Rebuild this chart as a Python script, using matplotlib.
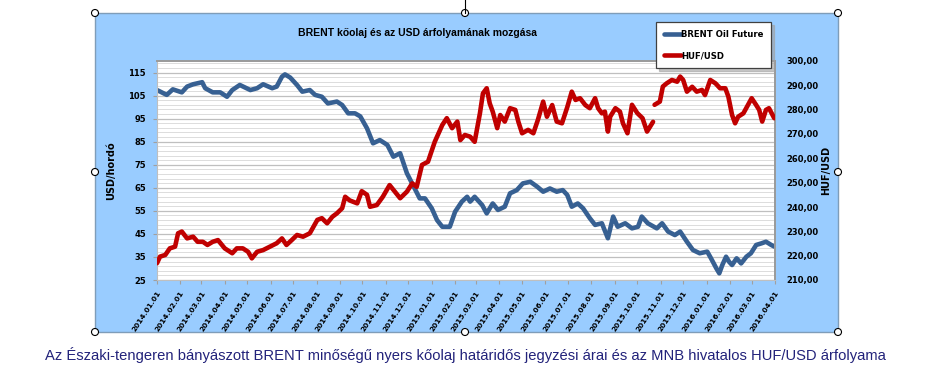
import numpy as np
import pandas as pd
import matplotlib
matplotlib.use('Agg')
import matplotlib.pyplot as plt
import matplotlib.dates as mdates
from matplotlib.patches import Rectangle, Circle
from matplotlib.ticker import FixedLocator, FuncFormatter

# BRENT Oil Future (USD/hordó)
brent_dates = ['2014-01-01', '2014-01-14', '2014-01-22', '2014-02-03', '2014-02-10', '2014-02-18',
               '2014-03-02', '2014-03-06', '2014-03-16', '2014-03-26', '2014-04-04', '2014-04-11',
               '2014-04-21', '2014-05-05', '2014-05-14', '2014-05-22', '2014-06-03', '2014-06-09',
               '2014-06-16', '2014-06-20', '2014-06-27', '2014-07-06', '2014-07-13', '2014-07-23',
               '2014-07-30', '2014-08-08', '2014-08-16', '2014-08-28', '2014-09-04', '2014-09-12',
               '2014-09-21', '2014-09-28', '2014-10-07', '2014-10-15', '2014-10-24', '2014-11-03',
               '2014-11-11', '2014-11-20', '2014-11-29', '2014-12-07', '2014-12-16', '2014-12-23',
               '2015-01-01', '2015-01-08', '2015-01-15', '2015-01-25', '2015-02-01', '2015-02-10',
               '2015-02-17', '2015-02-21', '2015-02-27', '2015-03-09', '2015-03-15', '2015-03-23',
               '2015-03-30', '2015-04-08', '2015-04-15', '2015-04-24', '2015-05-02', '2015-05-12',
               '2015-05-21', '2015-05-29', '2015-06-07', '2015-06-16', '2015-06-24', '2015-06-30',
               '2015-07-06', '2015-07-14', '2015-07-21', '2015-07-30', '2015-08-06', '2015-08-15',
               '2015-08-23', '2015-08-30', '2015-09-05', '2015-09-15', '2015-09-24', '2015-10-02',
               '2015-10-07', '2015-10-15', '2015-10-27', '2015-11-03', '2015-11-11', '2015-11-20',
               '2015-11-27', '2015-12-06', '2015-12-14', '2015-12-23', '2016-01-02', '2016-01-07',
               '2016-01-14', '2016-01-18', '2016-01-22', '2016-01-27', '2016-01-31', '2016-02-04',
               '2016-02-10', '2016-02-16', '2016-02-23', '2016-02-29', '2016-03-07', '2016-03-14',
               '2016-03-20', '2016-03-27', '2016-03-31']
brent = [107.4, 105.3, 107.7, 106.4, 108.9, 109.9,
         110.8, 108.2, 106.4, 106.4, 104.5, 107.4,
         109.6, 107.4, 108.2, 109.9, 108.2, 108.9,
         113.2, 114.2, 112.8, 109.6, 106.7, 107.4,
         105.3, 104.5, 101.6, 102.4, 100.9, 97.3,
         97.3, 96.0, 90.8, 84.3, 85.7, 83.6,
         78.5, 80.0, 71.3, 66.2, 60.4, 60.4,
         56.1, 51.0, 48.1, 48.1, 54.6, 59.0,
         61.1, 59.0, 61.1, 57.5, 53.9, 58.2,
         55.4, 56.8, 62.6, 64.0, 66.9, 67.6,
         65.5, 63.3, 64.7, 63.3, 64.0, 61.9,
         56.8, 58.2, 56.1, 51.8, 48.9, 49.6,
         43.1, 52.5, 48.1, 49.6, 47.4, 48.1,
         52.5, 49.6, 47.4, 49.6, 46.0, 44.5,
         46.0, 41.6, 38.0, 36.6, 37.3, 34.4,
         30.1, 27.9, 31.5, 35.1, 32.9, 31.5,
         34.4, 32.2, 35.1, 36.6, 40.2, 40.9,
         41.6, 40.2, 39.5]

# HUF/USD árfolyam
huf_dates = ['2014-01-01', '2014-01-05', '2014-01-12', '2014-01-18', '2014-01-25', '2014-01-29',
             '2014-02-03', '2014-02-10', '2014-02-18', '2014-02-24', '2014-03-03', '2014-03-09',
             '2014-03-16', '2014-03-23', '2014-04-01', '2014-04-11', '2014-04-17', '2014-04-25',
             '2014-05-02', '2014-05-07', '2014-05-14', '2014-05-22', '2014-05-31', '2014-06-09',
             '2014-06-16', '2014-06-22', '2014-06-29', '2014-07-06', '2014-07-14', '2014-07-23',
             '2014-08-02', '2014-08-08', '2014-08-15', '2014-08-22', '2014-08-28', '2014-09-04',
             '2014-09-08', '2014-09-14', '2014-09-24', '2014-09-30', '2014-10-07', '2014-10-11',
             '2014-10-20', '2014-10-28', '2014-11-06', '2014-11-13', '2014-11-20', '2014-11-29',
             '2014-12-06', '2014-12-12', '2014-12-19', '2014-12-27', '2015-01-05', '2015-01-15',
             '2015-01-21', '2015-01-28', '2015-02-04', '2015-02-08', '2015-02-14', '2015-02-21',
             '2015-02-27', '2015-03-06', '2015-03-10', '2015-03-15', '2015-03-19', '2015-03-23',
             '2015-03-29', '2015-04-02', '2015-04-08', '2015-04-15', '2015-04-22', '2015-04-26',
             '2015-05-01', '2015-05-09', '2015-05-16', '2015-05-22', '2015-05-29', '2015-06-03',
             '2015-06-10', '2015-06-16', '2015-06-23', '2015-06-30', '2015-07-06', '2015-07-11',
             '2015-07-17', '2015-07-24', '2015-07-30', '2015-08-06', '2015-08-10', '2015-08-15',
             '2015-08-19', '2015-08-23', '2015-08-26', '2015-09-02', '2015-09-08', '2015-09-12',
             '2015-09-18', '2015-09-24', '2015-10-01', '2015-10-08', '2015-10-14', '2015-10-18',
             '2015-10-22', '2015-10-23', '2015-10-24', '2015-10-31', '2015-11-04', '2015-11-09',
             '2015-11-16', '2015-11-23', '2015-11-27', '2015-12-01', '2015-12-06', '2015-12-13',
             '2015-12-19', '2015-12-26', '2015-12-30', '2016-01-06', '2016-01-13', '2016-01-19',
             '2016-01-26', '2016-01-30', '2016-02-04', '2016-02-08', '2016-02-12', '2016-02-19',
             '2016-02-25', '2016-03-01', '2016-03-07', '2016-03-11', '2016-03-15', '2016-03-20',
             '2016-03-24', '2016-03-31']
huf = [216.9, 219.6, 220.3, 223.0, 223.7, 229.2,
       229.9, 227.1, 227.8, 225.7, 225.7, 224.4,
       225.7, 226.4, 223.0, 221.0, 223.0, 223.0,
       221.6, 218.9, 221.6, 222.3, 223.7, 225.1,
       227.1, 224.4, 226.4, 228.5, 227.8, 229.2,
       234.7, 235.4, 233.3, 236.0, 237.4, 239.5,
       244.2, 242.7, 241.5, 246.5, 245.0, 240.1,
       240.8, 244.2, 249.0, 246.3, 243.6, 246.3,
       249.7, 248.3, 257.3, 258.6, 266.8, 273.7,
       276.5, 272.4, 275.1, 267.5, 269.6, 268.9,
       266.8, 278.5, 286.7, 288.8, 282.6, 279.2,
       272.4, 277.8, 275.1, 280.6, 279.9, 275.1,
       270.3, 271.7, 270.3, 275.8, 283.3, 277.1,
       281.9, 275.1, 274.4, 281.0, 287.4, 284.0,
       284.7, 281.9, 280.6, 284.7, 280.6, 278.5,
       279.2, 271.0, 277.1, 280.6, 279.2, 274.4,
       270.3, 282.0, 278.6, 276.5, 271.0, 273.0,
       275.0, np.nan, 282.0, 283.3, 289.5, 290.8,
       292.2, 291.5, 293.6, 292.2, 287.4, 289.4,
       287.4, 288.1, 286.0, 292.2, 290.8, 288.8,
       288.8, 285.4, 277.8, 274.4, 277.1, 278.5,
       281.9, 284.7, 281.9, 279.9, 275.1, 279.9,
       280.6, 276.5]

month_ticks = pd.date_range('2014-01-01', '2016-04-01', freq='MS')
left_ticks = list(range(25, 116, 10))
right_ticks = list(range(210, 301, 10))

W, H = 929, 389
fig = plt.figure(figsize=(W / 100, H / 100), dpi=100)
fig.patch.set_facecolor('white')

# chart frame (light blue area)
bg = fig.add_axes([0, 0, 1, 1], zorder=0)
bg.set_xlim(0, W)
bg.set_ylim(H, 0)
bg.axis('off')
bg.add_patch(Rectangle((95, 13), 743, 319, facecolor='#99CCFF', edgecolor='#7F9DB9', lw=1))

ax = fig.add_axes([157 / W, 1 - 280 / H, 618 / W, 219 / H], zorder=1)
ax.set_facecolor('white')
ax.plot(pd.to_datetime(brent_dates), brent, color='#376092', lw=3.3,
        solid_capstyle='round', solid_joinstyle='round', label='BRENT Oil Future')
ax.set_ylim(25, 120)
ax.set_yticks(left_ticks)
ax.yaxis.set_minor_locator(FixedLocator(np.arange(27, 120, 2)))
ax.grid(True, which='major', axis='y', color='#BFBFBF', lw=0.9)
ax.grid(True, which='minor', axis='y', color='#DCDCDC', lw=0.7)
ax.tick_params(axis='y', which='minor', length=0)
ax.set_axisbelow(True)
ax.set_xlim(pd.Timestamp('2014-01-01'), pd.Timestamp('2016-04-01'))
ax.set_xticks(month_ticks)
ax.xaxis.set_major_formatter(mdates.DateFormatter('%Y.%m.%d'))
ax.tick_params(axis='x', length=3, color='#A0A0A0', pad=4)
ax.tick_params(axis='y', length=3, color='#A0A0A0', pad=5)
for lab in ax.get_xticklabels():
    lab.set_rotation(57)
    lab.set_ha('right')
    lab.set_va('top')
    lab.set_rotation_mode('anchor')
    lab.set_fontsize(5.3)
    lab.set_fontweight('bold')
for lab in ax.get_yticklabels():
    lab.set_fontsize(6)
    lab.set_fontweight('bold')
ax.set_ylabel('USD/hordó', fontsize=7, fontweight='bold', labelpad=9)
for s in ['left', 'bottom']:
    ax.spines[s].set_color('#BFBFBF')
for s in ['top', 'right']:
    ax.spines[s].set_color('#9A9A9A')
    ax.spines[s].set_linewidth(1.4)

ax2 = ax.twinx()
ax2.plot(pd.to_datetime(huf_dates), huf, color='#C00000', lw=3.3,
         solid_capstyle='round', solid_joinstyle='round', label='HUF/USD')
ax2.set_ylim(210, 300)
ax2.set_yticks(right_ticks)
ax2.yaxis.set_major_formatter(FuncFormatter(lambda v, p: f'{v:.2f}'.replace('.', ',')))
ax2.tick_params(axis='y', length=0, pad=8)
for lab in ax2.get_yticklabels():
    lab.set_fontsize(6)
    lab.set_fontweight('bold')
ax2.set_ylabel('HUF/USD', fontsize=7, fontweight='bold', labelpad=2)
for s in ax2.spines.values():
    s.set_visible(False)

fig.text(418 / W, 1 - 33 / H, 'BRENT kőolaj és az USD árfolyamának mozgása',
         ha='center', va='center', fontsize=7.5, fontweight='bold', family='Liberation Sans')

leg = fig.legend(loc='upper left', bbox_to_anchor=(656 / W, 1 - 22 / H),
                 prop={'size': 6.1, 'weight': 'bold'}, frameon=True, fancybox=False,
                 shadow={'color': '#A0A0A0', 'alpha': 0.6, 'ox': 2, 'oy': -2},
                 borderpad=0.9, labelspacing=1.5, handlelength=2.1,
                 handletextpad=0.0, borderaxespad=0)
leg.get_frame().set_edgecolor('#404040')
leg.get_frame().set_linewidth(0.9)
leg.set_zorder(5)

fig.text(465 / W, 1 - 355 / H,
         'Az Északi-tengeren bányászott BRENT minőségű nyers kőolaj határidős jegyzési árai '
         'és az MNB hivatalos HUF/USD árfolyama',
         ha='center', va='center', fontsize=10.6, color='#22227A', family='Liberation Sans')

# selection handles
top = fig.add_axes([0, 0, 1, 1], zorder=10)
top.set_xlim(0, W)
top.set_ylim(H, 0)
top.axis('off')
top.patch.set_alpha(0)
top.plot([465, 465], [0, 13], color='black', lw=0.8)
for hx, hy in [(95, 13), (465, 13), (838, 13), (95, 172), (838, 172),
               (95, 332), (465, 332), (838, 332)]:
    top.add_patch(Circle((hx, hy), 3.5, facecolor='white', edgecolor='black', lw=0.8))

fig.savefig('out.png', dpi=100)
